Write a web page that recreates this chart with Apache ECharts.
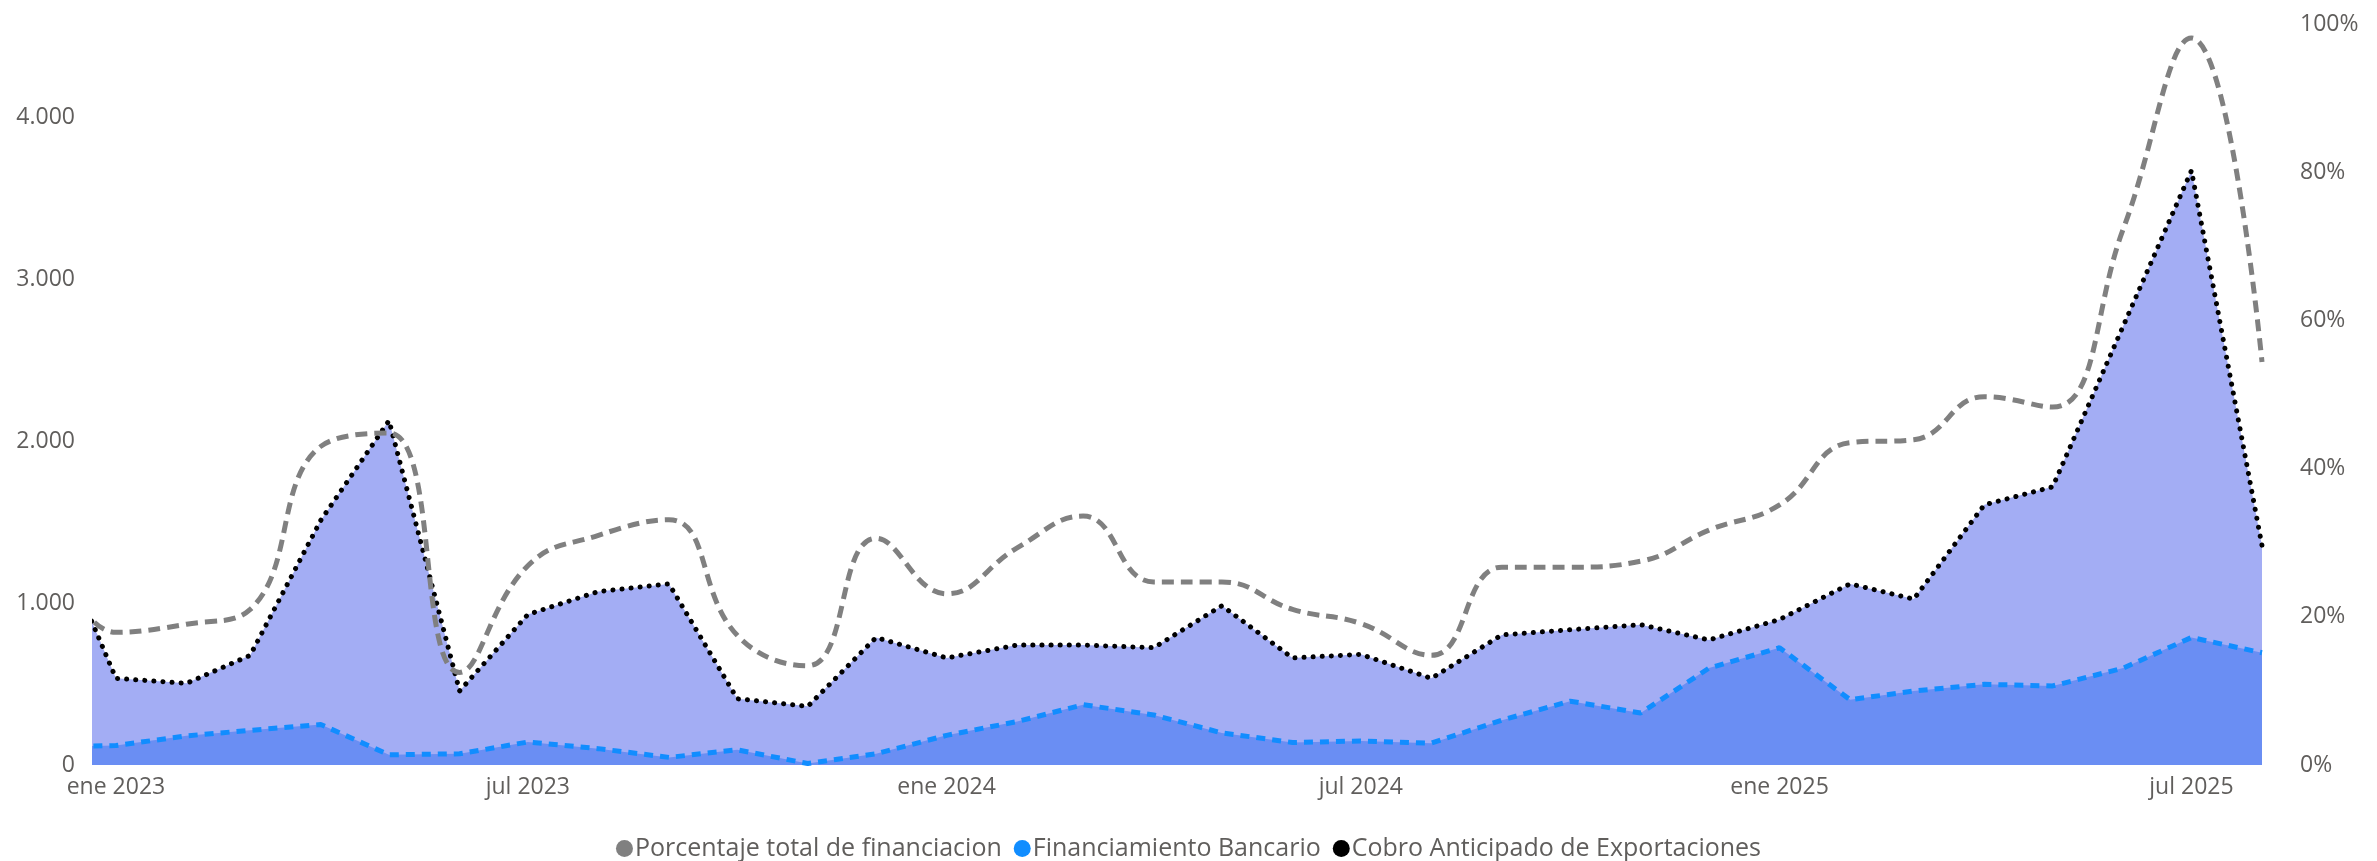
<!DOCTYPE html>
<html>
<head>
<meta charset="utf-8">
<script src="https://cdn.jsdelivr.net/npm/echarts@6/dist/echarts.min.js"></script>
<style>
html,body{margin:0;padding:0;background:#fff;}
#chart{width:2377px;height:861px;}
</style>
</head>
<body>
<div id="chart"></div>
<script>
// ---- data ----
const months = ['2022-12',
  '2023-01','2023-02','2023-03','2023-04','2023-05','2023-06','2023-07','2023-08','2023-09','2023-10','2023-11','2023-12',
  '2024-01','2024-02','2024-03','2024-04','2024-05','2024-06','2024-07','2024-08','2024-09','2024-10','2024-11','2024-12',
  '2025-01','2025-02','2025-03','2025-04','2025-05','2025-06','2025-07','2025-08'];

const cobroAnticipado = [1560,
  535,504,677,1510,2126,457,929,1071,1118,409,362,787,
  661,740,740,724,983,661,683,535,803,835,866,772,
  898,1118,1024,1606,1717,2709,3669,1354];

const financiamientoBancario = [110,
  120,180,214,250,63,69,142,101,47,94,9,69,
  183,268,372,309,198,139,148,135,277,394,321,598,
  724,403,457,498,488,598,787,693];

const porcentajeTotal = [0.33,
  0.179,0.19,0.21,0.43,0.448,0.125,0.269,0.31,0.331,0.175,0.134,0.306,
  0.231,0.293,0.336,0.247,0.247,0.21,0.191,0.148,0.267,0.267,0.275,0.317,
  0.351,0.435,0.439,0.497,0.483,0.723,0.981,0.544];

const xTickMonths = ['2023-01','2023-07','2024-01','2024-07','2025-01','2025-07'];
const monthNames = ['ene','feb','mar','abr','may','jun','jul','ago','sep','oct','nov','dic'];
const leftTicks = [0,1000,2000,3000,4000];

const seriesNames = ['Porcentaje total de financiacion','Financiamiento Bancario','Cobro Anticipado de Exportaciones'];

// ---- helpers: x = days since 1 Jan 2023 (continuous date axis) ----
const DAY = 86400000;
const T0 = Date.UTC(2023,0,1);
function dayOf(m){ const [y,mo] = m.split('-').map(Number); return Math.round((Date.UTC(y, mo-1, 1) - T0)/DAY); }
function labelOf(d){ const dt = new Date(T0 + d*DAY); return monthNames[dt.getUTCMonth()] + ' ' + dt.getUTCFullYear(); }
const xMin = -9.2;
const xMax = dayOf('2025-08');
const tickDays = xTickMonths.map(dayOf);
function pairs(vals){ return months.map((m,i)=>[dayOf(m), vals[i]]); }

const font = '"Segoe UI", "Open Sans", sans-serif';
const labelColor = '#605E5C';

const chart = echarts.init(document.getElementById('chart'), null, {renderer:'canvas'});
chart.setOption({
  animation:false,
  backgroundColor:'#ffffff',
  grid:{left:95, right:115, top:24, bottom:96, containLabel:false},
  legend:{
    data:seriesNames,
    top:831, left:'center',
    icon:'circle', itemWidth:17, itemHeight:17, itemGap:12,
    textStyle:{fontFamily:font, fontSize:25, color:labelColor, padding:[0,0,0,-3]},
    itemStyle:{borderWidth:0}
  },
  xAxis:{
    type:'value', min:xMin, max:xMax,
    axisLine:{show:false}, axisTick:{show:false}, splitLine:{show:false},
    axisLabel:{
      customValues: tickDays,
      fontFamily:font, fontSize:23, color:labelColor, margin:11,
      formatter:function(v){ return labelOf(v); }
    }
  },
  yAxis:[{
    type:'value', min:0, max:4574, interval:1000,
    axisLine:{show:false}, axisTick:{show:false}, splitLine:{show:false},
    axisLabel:{
      showMaxLabel:false, fontFamily:font, fontSize:23, color:labelColor, margin:20,
      formatter:function(v){ return leftTicks.indexOf(v) >= 0 ? (v>=1000 ? (v/1000)+'.000' : String(v)) : ''; }
    }
  },{
    type:'value', min:0, max:1, interval:0.2, position:'right',
    axisLine:{show:false}, axisTick:{show:false}, splitLine:{show:false},
    axisLabel:{
      fontFamily:font, fontSize:23, color:labelColor, margin:38,
      formatter:function(v){ return Math.round(v*100)+'%'; }
    }
  }],
  series:[
    {
      name:seriesNames[2], type:'line', yAxisIndex:0, data:pairs(cobroAnticipado),
      showSymbol:false, clip:true, z:2,
      itemStyle:{color:'#000000'},
      lineStyle:{color:'#000000', width:5, type:[0.1,9], cap:'round'},
      areaStyle:{color:'#A3ADF4', opacity:1}
    },
    {
      name:seriesNames[1], type:'line', yAxisIndex:0, data:pairs(financiamientoBancario),
      showSymbol:false, clip:true, z:3,
      itemStyle:{color:'#118DFF'},
      lineStyle:{color:'#118DFF', width:5, type:[9,7]},
      areaStyle:{color:'#6A8EF3', opacity:1}
    },
    {
      name:seriesNames[0], type:'line', yAxisIndex:1, data:pairs(porcentajeTotal),
      showSymbol:false, clip:true, smooth:0.45, z:4,
      itemStyle:{color:'#808080'},
      lineStyle:{color:'#808080', width:5, type:[12,7]}
    }
  ]
});
</script>
</body>
</html>
